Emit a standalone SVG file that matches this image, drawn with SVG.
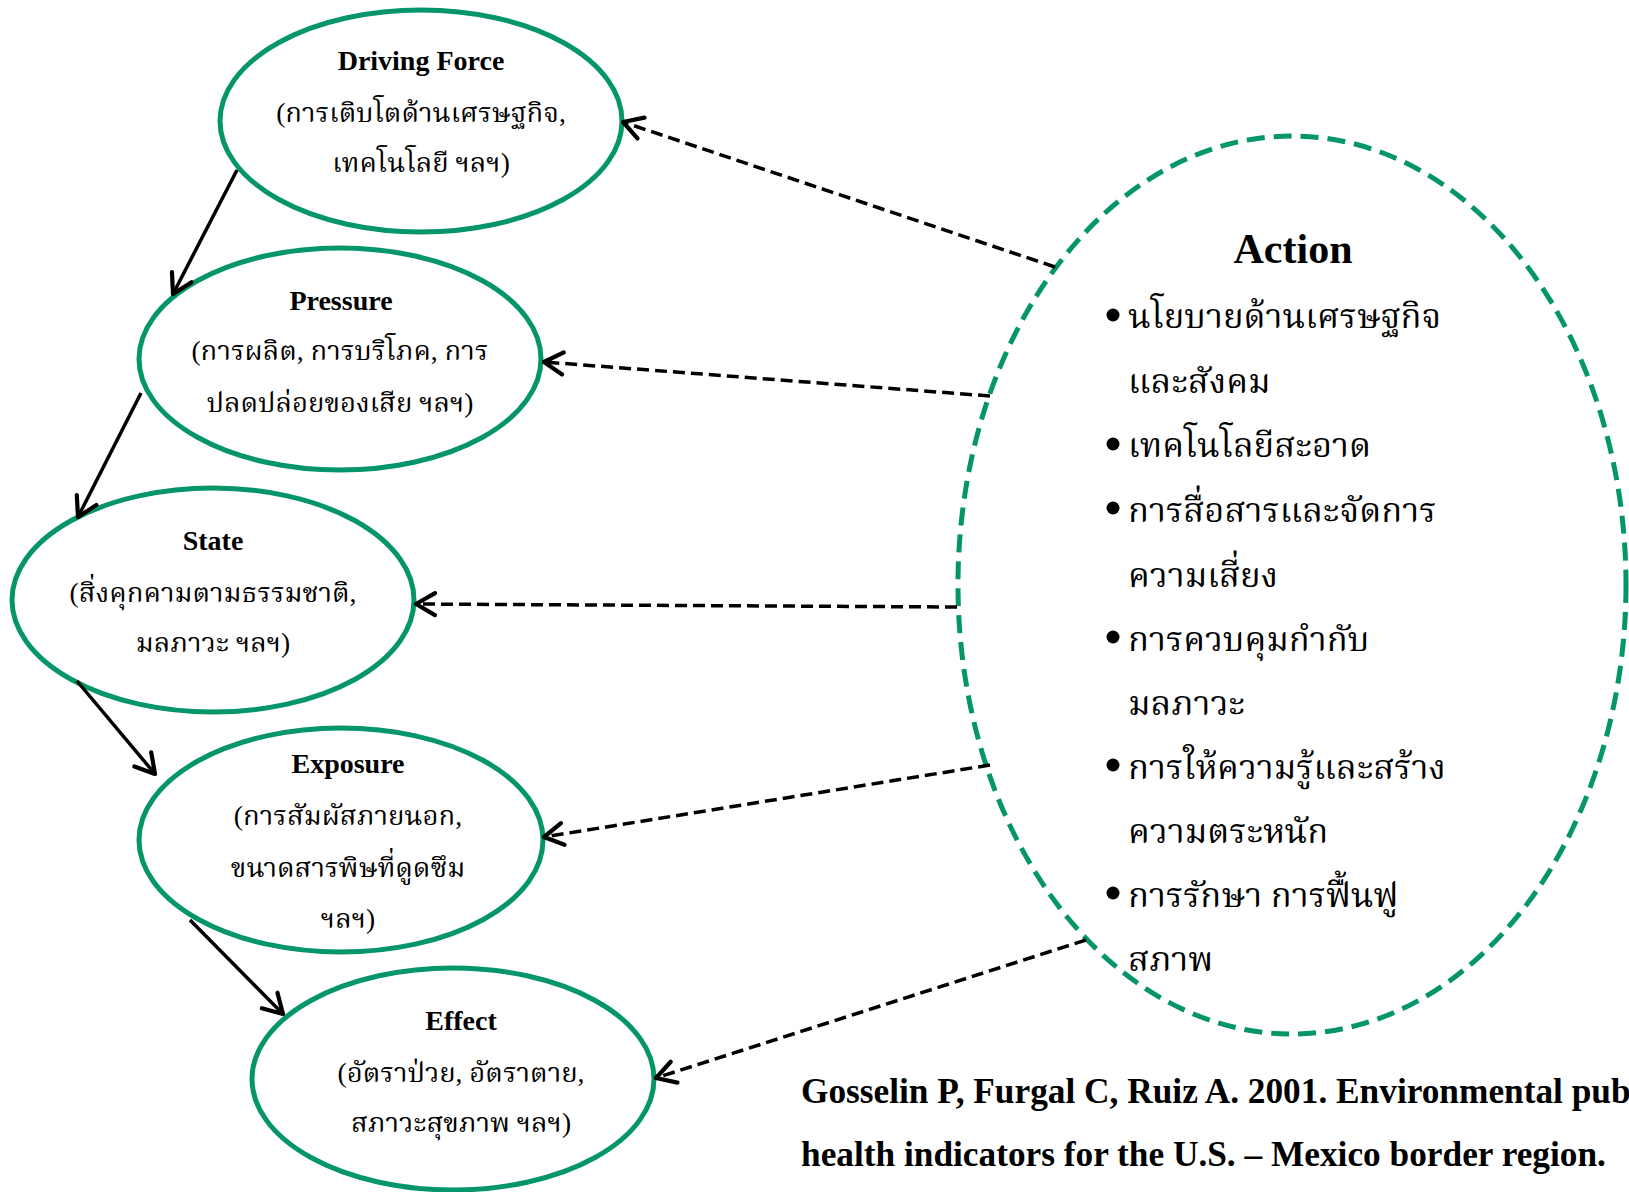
<svg xmlns="http://www.w3.org/2000/svg" width="1629" height="1192" viewBox="0 0 1629 1192">
  <style>
    .node { fill: #ffffff; stroke: #05956b; stroke-width: 5; }
    .action { fill: none; stroke: #05956b; stroke-width: 5; stroke-dasharray: 18 9; }
    .title { font-family: "Liberation Serif", "Times New Roman", serif; font-weight: bold; font-size: 28px; fill: #000; text-anchor: middle; }
    .th { font-family: "Liberation Serif", "Noto Serif Thai", "Noto Sans Thai", "Loma", serif; font-size: 27.5px; fill: #000; text-anchor: middle; }
    .thbig { font-family: "Liberation Serif", "Noto Serif Thai", "Noto Sans Thai", "Loma", serif; font-size: 34.5px; fill: #000; }
    .atitle { font-family: "Liberation Serif", "Times New Roman", serif; font-weight: bold; font-size: 42px; fill: #000; text-anchor: middle; }
    .ref { font-family: "Liberation Serif", "Times New Roman", serif; font-weight: bold; font-size: 35.3px; fill: #000; }
    .flow { fill: none; stroke: #000; stroke-width: 3.5; marker-end: url(#openArrow); }
    .feedback { fill: none; stroke: #000; stroke-width: 3.5; stroke-dasharray: 12 6; marker-end: url(#openArrow); }
  </style>
  <defs>
    <marker id="openArrow" markerUnits="userSpaceOnUse" viewBox="-24 -14 28 28" markerWidth="28" markerHeight="28" refX="0" refY="0" orient="auto">
      <path d="M-19,-11 L0,0 L-19,11" fill="none" stroke="#000" stroke-width="4.2" stroke-linecap="round" stroke-linejoin="round"/>
    </marker>
  </defs>

  <!-- Action ellipse -->
  <g id="action">
    <ellipse class="action" cx="1292" cy="585" rx="334" ry="449"/>
    <text class="atitle" x="1293" y="263">Action</text>
    <g class="bullets" fill="#000">
      <circle cx="1113" cy="315" r="6.5"/>
      <circle cx="1113" cy="444" r="6.5"/>
      <circle cx="1113" cy="508" r="6.5"/>
      <circle cx="1113" cy="637" r="6.5"/>
      <circle cx="1113" cy="765" r="6.5"/>
      <circle cx="1113" cy="893" r="6.5"/>
    </g>
    <text class="thbig" x="1128" y="328">นโยบายด้านเศรษฐกิจ</text>
    <text class="thbig" x="1128" y="393">และสังคม</text>
    <text class="thbig" x="1128" y="457">เทคโนโลยีสะอาด</text>
    <text class="thbig" x="1128" y="522">การสื่อสารและจัดการ</text>
    <text class="thbig" x="1128" y="587">ความเสี่ยง</text>
    <text class="thbig" x="1128" y="651">การควบคุมกำกับ</text>
    <text class="thbig" x="1128" y="715">มลภาวะ</text>
    <text class="thbig" x="1128" y="779">การให้ความรู้และสร้าง</text>
    <text class="thbig" x="1128" y="843">ความตระหนัก</text>
    <text class="thbig" x="1128" y="907">การรักษา การฟื้นฟู</text>
    <text class="thbig" x="1128" y="971">สภาพ</text>
  </g>

  <!-- DPSEEA chain nodes -->
  <g id="driving-force">
    <ellipse class="node" cx="421" cy="121" rx="201" ry="111"/>
    <text class="title" x="421" y="70">Driving Force</text>
    <text class="th" x="421" y="122">(การเติบโตด้านเศรษฐกิจ,</text>
    <text class="th" x="421" y="172">เทคโนโลยี ฯลฯ)</text>
  </g>
  <g id="pressure">
    <ellipse class="node" cx="340" cy="359" rx="201" ry="111"/>
    <text class="title" x="341" y="310">Pressure</text>
    <text class="th" x="340" y="360">(การผลิต, การบริโภค, การ</text>
    <text class="th" x="340" y="412">ปลดปล่อยของเสีย ฯลฯ)</text>
  </g>
  <g id="state">
    <ellipse class="node" cx="213" cy="600" rx="201" ry="112"/>
    <text class="title" x="213" y="550">State</text>
    <text class="th" x="213" y="602">(สิ่งคุกคามตามธรรมชาติ,</text>
    <text class="th" x="213" y="652">มลภาวะ ฯลฯ)</text>
  </g>
  <g id="exposure">
    <ellipse class="node" cx="341" cy="840" rx="202" ry="112"/>
    <text class="title" x="348" y="773">Exposure</text>
    <text class="th" x="348" y="825">(การสัมผัสภายนอก,</text>
    <text class="th" x="348" y="877">ขนาดสารพิษที่ดูดซึม</text>
    <text class="th" x="348" y="928">ฯลฯ)</text>
  </g>
  <g id="effect">
    <ellipse class="node" cx="453" cy="1079" rx="201" ry="111"/>
    <text class="title" x="461" y="1030">Effect</text>
    <text class="th" x="461" y="1082">(อัตราป่วย, อัตราตาย,</text>
    <text class="th" x="461" y="1132">สภาวะสุขภาพ ฯลฯ)</text>
  </g>

  <!-- Connectors: causal chain (solid) and action feedback (dashed) -->
  <g id="connectors">
    <line class="flow" x1="237" y1="170" x2="173" y2="294"/>
    <line class="flow" x1="141" y1="393" x2="78" y2="517"/>
    <line class="flow" x1="77" y1="681" x2="155" y2="774"/>
    <line class="flow" x1="190" y1="920" x2="283" y2="1014"/>

    <line class="feedback" x1="1055" y1="267" x2="623" y2="122"/>
    <line class="feedback" x1="990" y1="396" x2="544" y2="362"/>
    <line class="feedback" x1="957" y1="607" x2="416" y2="604"/>
    <line class="feedback" x1="990" y1="765" x2="544" y2="837"/>
    <line class="feedback" x1="1086" y1="940" x2="656" y2="1078"/>
  </g>

  <!-- Source note -->
  <text class="ref" x="801" y="1103">Gosselin P, Furgal C, Ruiz A. 2001. Environmental pub</text>
  <text class="ref" x="801" y="1166">health indicators for the U.S. – Mexico border region.</text>
</svg>
